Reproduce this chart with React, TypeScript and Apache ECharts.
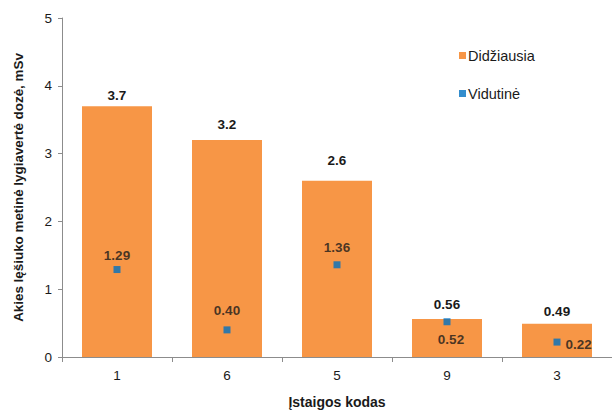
import React, { useEffect, useRef } from "react";
import * as echarts from "echarts";

// Institution codes along the x axis
const institutionCodes = ["1", "6", "5", "9", "3"];
// Highest annual equivalent dose to the eye lens, mSv
const maxDose = [3.7, 3.2, 2.6, 0.56, 0.49];
// Average annual equivalent dose to the eye lens, mSv
const avgDose = [1.29, 0.4, 1.36, 0.52, 0.22];
const maxLabels = ["3.7", "3.2", "2.6", "0.56", "0.49"];
const avgLabels = ["1.29", "0.40", "1.36", "0.52", "0.22"];
const yTicks = { min: 0, max: 5, interval: 1 };

const FONT = "'Liberation Sans', Arial, sans-serif";
const TEXT = "#1a1a1a";

// Label placement for each point
const maxLabelGap = [4, 9, 13, 8, 5.5];
const avgLabelStyle: any[] = [
  { position: "top", distance: 3.5 },
  { position: "top", distance: 8.5 },
  { position: "top", distance: 6.5 },
  { position: "bottom", distance: 7, offset: [4, 0] },
  { position: "right", distance: 5, offset: [0, 2] },
];

export default function App() {
  const ref = useRef<HTMLDivElement>(null);

  useEffect(() => {
    if (!ref.current) return;
    const chart = echarts.init(ref.current, null, { renderer: "svg" });
    const labelBase = {
      show: true,
      fontFamily: FONT,
      fontSize: 13.5,
      fontWeight: "bold" as const,
      color: TEXT,
    };
    chart.setOption({
      animation: false,
      backgroundColor: "#ffffff",
      textStyle: { fontFamily: FONT },
      grid: { left: 62, right: -5, top: 18, bottom: 52, containLabel: false },
      legend: {
        orient: "vertical",
        left: 454,
        top: 43,
        itemWidth: 7,
        itemHeight: 7,
        itemGap: 23,
        icon: "rect",
        textStyle: { fontFamily: FONT, fontSize: 14.5, color: TEXT, padding: [0, 0, 0, -3] },
        data: ["Didžiausia", "Vidutinė"],
      },
      xAxis: {
        type: "category",
        data: institutionCodes,
        name: "Įstaigos kodas",
        nameLocation: "middle",
        nameGap: 38,
        nameTextStyle: { fontFamily: FONT, fontSize: 14, fontWeight: "bold", color: TEXT },
        axisLine: { show: true, lineStyle: { color: "#8c8c8c", width: 1 } },
        axisTick: { show: true, length: 5, lineStyle: { color: "#8c8c8c" } },
        axisLabel: { fontFamily: FONT, fontSize: 13.5, color: TEXT, margin: 11 },
        splitLine: { show: false },
      },
      yAxis: {
        type: "value",
        min: yTicks.min,
        max: yTicks.max,
        interval: yTicks.interval,
        name: "Akies lęšiuko metinė lygiavertė dozė, mSv",
        nameLocation: "middle",
        nameGap: 37,
        nameTextStyle: { fontFamily: FONT, fontSize: 13.4, fontWeight: "bold", color: TEXT },
        axisLine: { show: true, lineStyle: { color: "#8c8c8c", width: 1 } },
        axisTick: { show: true, length: 4, lineStyle: { color: "#8c8c8c" } },
        axisLabel: { fontFamily: FONT, fontSize: 13.5, color: TEXT, margin: 10 },
        splitLine: { show: false },
      },
      series: [
        {
          name: "Didžiausia",
          type: "bar",
          barWidth: 70,
          itemStyle: { color: "#F79646" },
          data: maxDose.map((v, i) => ({
            value: v,
            label: {
              ...labelBase,
              position: "top",
              distance: maxLabelGap[i],
              formatter: maxLabels[i],
            },
          })),
          z: 2,
        },
        {
          name: "Vidutinė",
          type: "scatter",
          symbol: "rect",
          symbolSize: 7,
          itemStyle: { color: "#0070C0" },
          data: avgDose.map((v, i) => ({
            value: v,
            label: { ...labelBase, ...avgLabelStyle[i], formatter: avgLabels[i] },
          })),
          z: 3,
        },
      ],
    });
    return () => chart.dispose();
  }, []);

  return (
    <div
      ref={ref}
      style={{ position: "absolute", left: 0, top: 0, width: 612, height: 414 }}
    />
  );
}
